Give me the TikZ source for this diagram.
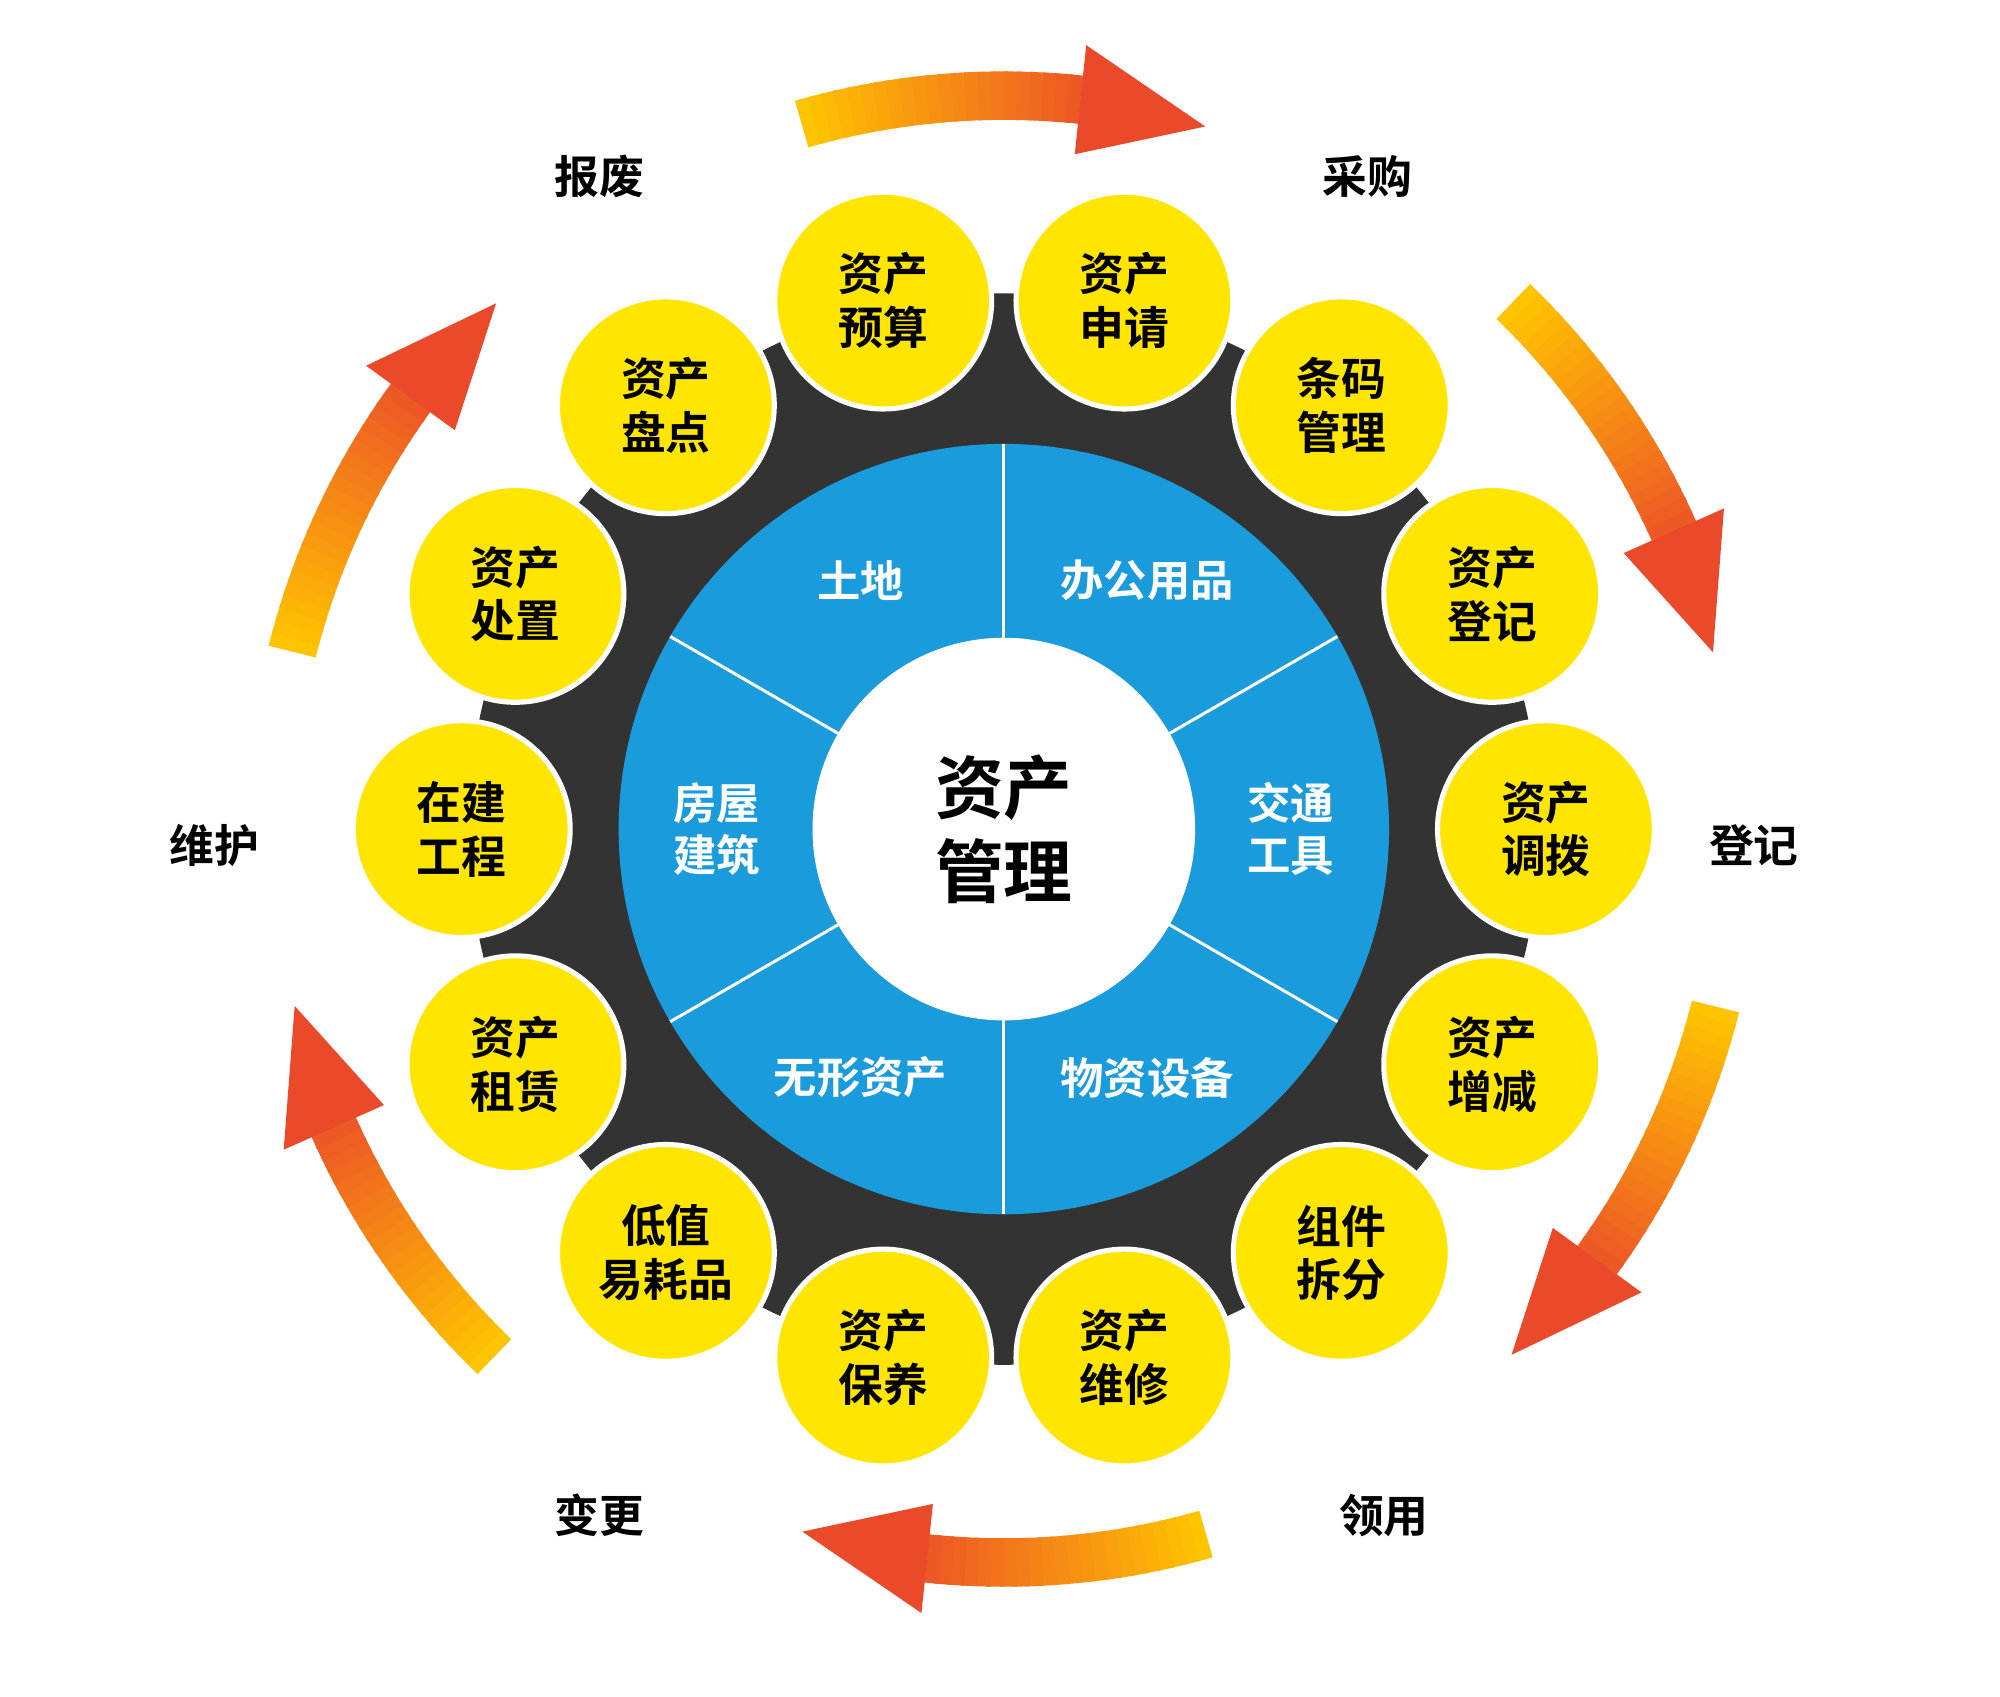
\documentclass[tikz,border=0pt]{standalone}
\usetikzlibrary{calc}
\usepackage{fontspec}
\newfontfamily\cjk{Noto Sans CJK SC Bold}
\definecolor{ylw}{HTML}{FFE500}
\definecolor{blu}{HTML}{1A9BDC}
\definecolor{drk}{HTML}{333333}
\definecolor{aS}{HTML}{FFC400}
\definecolor{aE}{HTML}{EB4A2A}
\begin{document}
\begin{tikzpicture}[x=0.3mm,y=0.3mm,
  ycirc/.style={circle,fill=ylw,draw=white,line width=1.2mm,minimum size=51mm,inner sep=0pt,font=\cjk\fontsize{30}{36}\selectfont,align=center},
  btxt/.style={text=white,font=\cjk\fontsize{29}{35}\selectfont,align=center},
  otxt/.style={font=\cjk\fontsize{30}{36}\selectfont}]
\useasboundingbox (0,0) rectangle (1568,1330);
\fill[white] (0,0) rectangle (1568,1330);
\coordinate (O) at (787,680);
% arrows
\foreach \c in {90,30,-30,-90,210,150}{
  \foreach \k in {0,...,21}{
    \pgfmathsetmacro\aa{\c+16-\k*1.0}
    \pgfmathsetmacro\ab{\c+16-(\k+1)*1.0-0.3}
    \pgfmathsetmacro\p{100*\k/24}
    \fill[aE!\p!aS] ($(O)+(\aa:556)$) arc[start angle=\aa,end angle=\ab,radius=556] -- ($(O)+(\ab:594)$) arc[start angle=\ab,end angle=\aa,radius=594] -- cycle;
  }
  \pgfmathsetmacro\hb{\c-6}
  \pgfmathsetmacro\ht{\c-16}
  \fill[aE] ($(O)+(\hb:532)$) -- ($(O)+(\hb:618)$) -- ($(O)+(\ht:573)$) -- cycle;
}
\node[otxt] (l1) at (470,1192) {报废};
\node[otxt] (l2) at (1072,1192) {采购};
\node[otxt] (l3) at (1375,667) {登记};
\node[otxt] (l4) at (1085,142) {领用};
\node[otxt] (l5) at (470,142) {变更};
\node[otxt] (l6) at (168,667) {维护};
% dark disc
\fill[drk] (O) circle (420);
\fill[blu] (O) circle (302);
\fill[white] (O) circle (150);
\foreach \a in {90,30,-30,-90,210,150}
  \draw[white,line width=0.7mm] ($(O)+(\a:150)$) -- ($(O)+(\a:302)$);
\node[font=\cjk\fontsize{46}{56}\selectfont,align=center] (ctr) at (O) {资产\\管理};
\node[btxt] (s1) at ($(O)+(120:225)$) {土地};
\node[btxt] (s2) at ($(O)+(60:225)$) {办公用品};
\node[btxt] (s3) at ($(O)+(0:225)$) {交通\\工具};
\node[btxt] (s4) at ($(O)+(-60:225)$) {物资设备};
\node[btxt] (s5) at ($(O)+(-120:225)$) {无形资产};
\node[btxt] (s6) at ($(O)+(180:225)$) {房屋\\建筑};
\foreach \t [count=\i from 0] in {{资产\\调拨},{资产\\登记},{条码\\管理},{资产\\申请},{资产\\预算},{资产\\盘点},{资产\\处置},{在建\\工程},{资产\\租赁},{低值\\易耗品},{资产\\保养},{资产\\维修},{组件\\拆分},{资产\\增减}}{
  \pgfmathsetmacro\ang{\i*360/14}
  \node[ycirc] (c\i) at ($(O)+(\ang:425)$) {\t};
}
\end{tikzpicture}
\end{document}
